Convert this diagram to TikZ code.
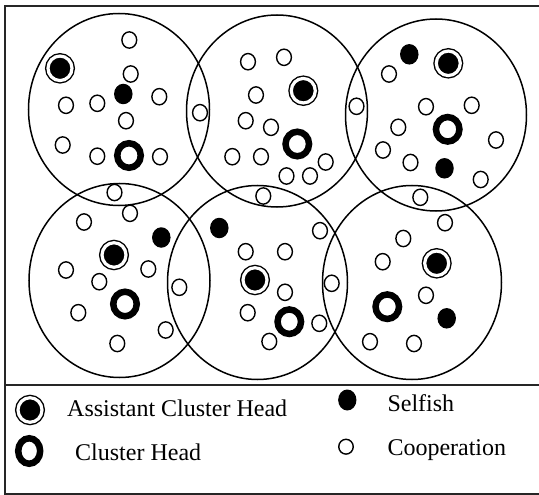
\documentclass[tikz,border=0pt]{standalone}
\usepackage{fontspec}
\setmainfont{Liberation Serif}
\usetikzlibrary{shapes.geometric}
\tikzset{
  cluster/.style={ellipse, draw, line width=1.5pt, inner sep=0pt, minimum width=181pt, minimum height=192pt},
  coop/.style={ellipse, draw, fill=white, line width=1.4pt, inner sep=0pt, minimum width=14.8pt, minimum height=16.3pt},
  selfish/.style={ellipse, fill=black, inner sep=0pt, minimum width=18.5pt, minimum height=20.5pt},
  ach/.style={ellipse, draw, fill=black, line width=1.4pt, double=white, double distance=3.2pt, inner sep=0pt, minimum width=24pt, minimum height=24.5pt},
  chead/.style={ellipse, draw, fill=white, line width=6.5pt, inner sep=0pt, minimum width=23.5pt, minimum height=24.5pt},
  legtext/.style={anchor=base west, inner sep=0pt, font=\fontsize{24}{28}\selectfont},
  frame/.style={line width=1.8pt, black!85}
}
\begin{document}
\begin{tikzpicture}[x=1pt,y=-1pt]
\useasboundingbox (0,0) rectangle (539,495);
% frame
\coordinate (tr) at (539,6);
\coordinate (tl) at (5,6);
\coordinate (bl) at (5,494);
\coordinate (br) at (539,494);
\coordinate (sl) at (5,385);
\coordinate (sr) at (539,385);
\draw[frame] (tr) -- (tl) -- (bl) -- (br);
\draw[frame] (sl) -- (sr);
% clusters
\node[cluster] (c1) at (119,109.5) {};
\node[cluster] (c2) at (277,111) {};
\node[cluster] (c3) at (436,115) {};
\node[cluster, minimum height=194pt] (c4) at (119.5,280.5) {};
\node[cluster, minimum width=180pt, minimum height=194pt] (c5) at (257.5,282.5) {};
\node[cluster, minimum width=179pt, minimum height=194pt] (c6) at (412,282.5) {};
% cluster 1
\node[coop] (a1) at (129.3,40) {};
\node[coop] (a2) at (130.7,74) {};
\node[coop] (a3) at (66,105.3) {};
\node[coop] (a4) at (97.3,103.3) {};
\node[coop] (a5) at (159.3,96.7) {};
\node[coop] (a6) at (126,120.7) {};
\node[coop] (a7) at (62.7,145) {};
\node[coop] (a8) at (97.3,156.2) {};
\node[coop] (a9) at (160,156.7) {};
\node[ach] (ah1) at (60,68.3) {};
\node[selfish] (as1) at (123.3,94) {};
\node[chead] (ch1) at (129,155.5) {};
\node[coop] (x12) at (200,112.7) {};
% cluster 2
\node[coop] (b1) at (248,61.7) {};
\node[coop] (b2) at (284,57.3) {};
\node[coop] (b3) at (256,95) {};
\node[coop] (b4) at (245.7,120.7) {};
\node[coop] (b5) at (271,127.3) {};
\node[coop] (b6) at (232.3,156.7) {};
\node[coop] (b7) at (261,156.7) {};
\node[coop] (b8) at (325.7,162) {};
\node[coop] (b9) at (286.5,176) {};
\node[coop] (b10) at (310,176) {};
\node[ach] (ah2) at (303.3,90.7) {};
\node[chead] (ch2) at (297.3,144) {};
\node[coop] (x23) at (356.5,106.3) {};
% cluster 3
\node[selfish] (cs1) at (409.3,54.3) {};
\node[ach] (ah3) at (448.3,63.3) {};
\node[coop] (d1) at (389,74) {};
\node[coop] (d2) at (426,106.7) {};
\node[coop] (d3) at (471.7,105.3) {};
\node[coop] (d4) at (398.3,127.3) {};
\node[coop] (d5) at (383,150) {};
\node[coop] (d6) at (496,140) {};
\node[coop] (d7) at (410.5,162.5) {};
\node[coop] (d8) at (480.7,179.5) {};
\node[chead] (ch3) at (447.7,129.3) {};
\node[selfish] (cs2) at (444.5,168.3) {};
% overlap zone between rows
\node[coop] (o1) at (114.5,192.5) {};
\node[coop] (o2) at (130,213.3) {};
\node[coop] (o3) at (84,222) {};
\node[coop] (o4) at (263.3,196) {};
\node[coop] (o5) at (420.3,197.3) {};
\node[selfish] (os1) at (161.3,237.5) {};
\node[selfish] (os2) at (219.3,228) {};
% cluster 4
\node[ach] (ah4) at (114,255) {};
\node[coop] (e1) at (66,270) {};
\node[coop] (e2) at (99.3,281.7) {};
\node[coop] (e3) at (148.3,269) {};
\node[coop] (e4) at (179.3,287.3) {};
\node[coop] (e5) at (78.3,312.7) {};
\node[coop] (e6) at (165.7,330) {};
\node[coop] (e7) at (117.3,343.5) {};
\node[chead] (ch4) at (125,304) {};
% cluster 5
\node[coop] (f1) at (320,230.7) {};
\node[coop] (f2) at (245.7,251.7) {};
\node[coop] (f3) at (285,251.7) {};
\node[coop] (f4) at (285,292.3) {};
\node[coop] (f5) at (331.7,283.3) {};
\node[coop] (f6) at (247.7,312.7) {};
\node[coop] (f7) at (319.3,323.3) {};
\node[coop] (f8) at (269.3,341.5) {};
\node[ach] (ah5) at (255,280) {};
\node[chead] (ch5) at (289.3,321.7) {};
% cluster 6
\node[coop] (g1) at (445,222.7) {};
\node[coop] (g2) at (403.3,238.5) {};
\node[coop] (g3) at (382.7,261.7) {};
\node[coop] (g4) at (426,295.3) {};
\node[coop] (g5) at (370,341.7) {};
\node[coop] (g6) at (414,343.5) {};
\node[ach] (ah6) at (436.7,263.3) {};
\node[chead] (ch6) at (387.3,306.7) {};
\node[selfish] (gs1) at (446.7,318.3) {};
% legend
\node[ach] (lach) at (30,410) {};
\node[legtext] (tach) at (67,416.9) {Assistant Cluster Head};
\node[chead, minimum width=22pt, minimum height=25.5pt] (lch) at (29.2,451) {};
\node[legtext] (tch) at (75,460) {Cluster Head};
\node[selfish, minimum width=18.3pt, minimum height=21pt] (lsf) at (347.3,400) {};
\node[legtext] (tsf) at (387.3,411.7) {Selfish};
\node[coop, minimum width=14.5pt, minimum height=14.8pt] (lco) at (346,446.7) {};
\node[legtext] (tco) at (387.3,455) {Cooperation};
\end{tikzpicture}
\end{document}
